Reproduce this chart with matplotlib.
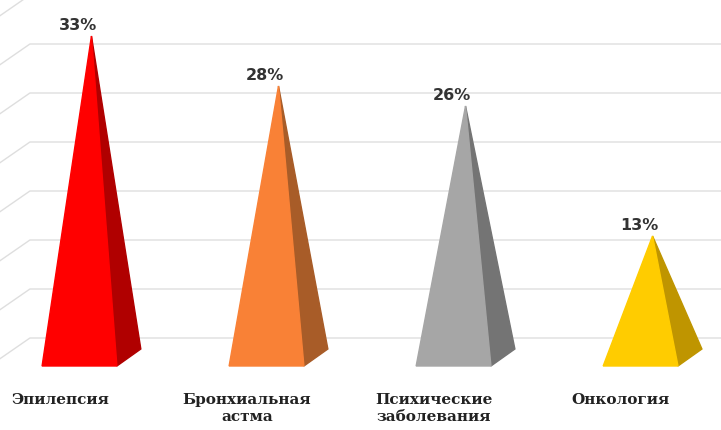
import matplotlib

matplotlib.use("Agg")
import matplotlib.pyplot as plt
from matplotlib.patches import Polygon

categories = ["Эпилепсия", "Бронхиальная\nастма", "Психические\nзаболевания", "Онкология"]
values = [33, 28, 26, 13]
front_colors = ["#FF0000", "#F98136", "#A6A6A6", "#FFCC00"]
side_colors = ["#B00000", "#A85C28", "#747474", "#BF9500"]
grid_levels = [0, 5, 10, 15, 20, 25, 30, 35]

# 3d look: depth of the pyramids and of the back wall, in data units
half_w = 0.2
depth_x = 0.128
depth_y = 1.7
wall_x = -0.265
wall_y = 2.8
grid_step = 0.98

fig = plt.figure(figsize=(7.21, 4.31), dpi=100)
ax = fig.add_axes([0, 0, 1, 1])
ax.set_xlim(-0.425, 3.43)
ax.set_ylim(-6.4, 36.7)
ax.axis("off")

for level in grid_levels:
    y = wall_y + level * grid_step
    ax.plot([wall_x - 0.17, wall_x, 3.43], [y - 2.2, y, y], color="#DEDEDE", linewidth=1.0, zorder=1)

for i, value in enumerate(values):
    left, right = i - half_w, i + half_w
    apex = (i + depth_x / 2, value)
    side = Polygon([(right, 0), (right + depth_x, depth_y), apex], color=side_colors[i], zorder=2)
    front = Polygon([(left, 0), (right, 0), apex], color=front_colors[i], zorder=3)
    ax.add_patch(side)
    ax.add_patch(front)
    ax.text(i - 0.008, value + 0.45, f"{value}%", ha="center", va="bottom", fontsize=11.5,
            fontweight="bold", color="#333333", zorder=4)
    ax.text(i - 0.105, -2.6, categories[i], ha="center", va="top", family="DejaVu Serif",
            fontsize=11, fontweight="bold", color="#222222", linespacing=1.25)

plt.savefig("out.png", dpi=100)
plt.close(fig)
